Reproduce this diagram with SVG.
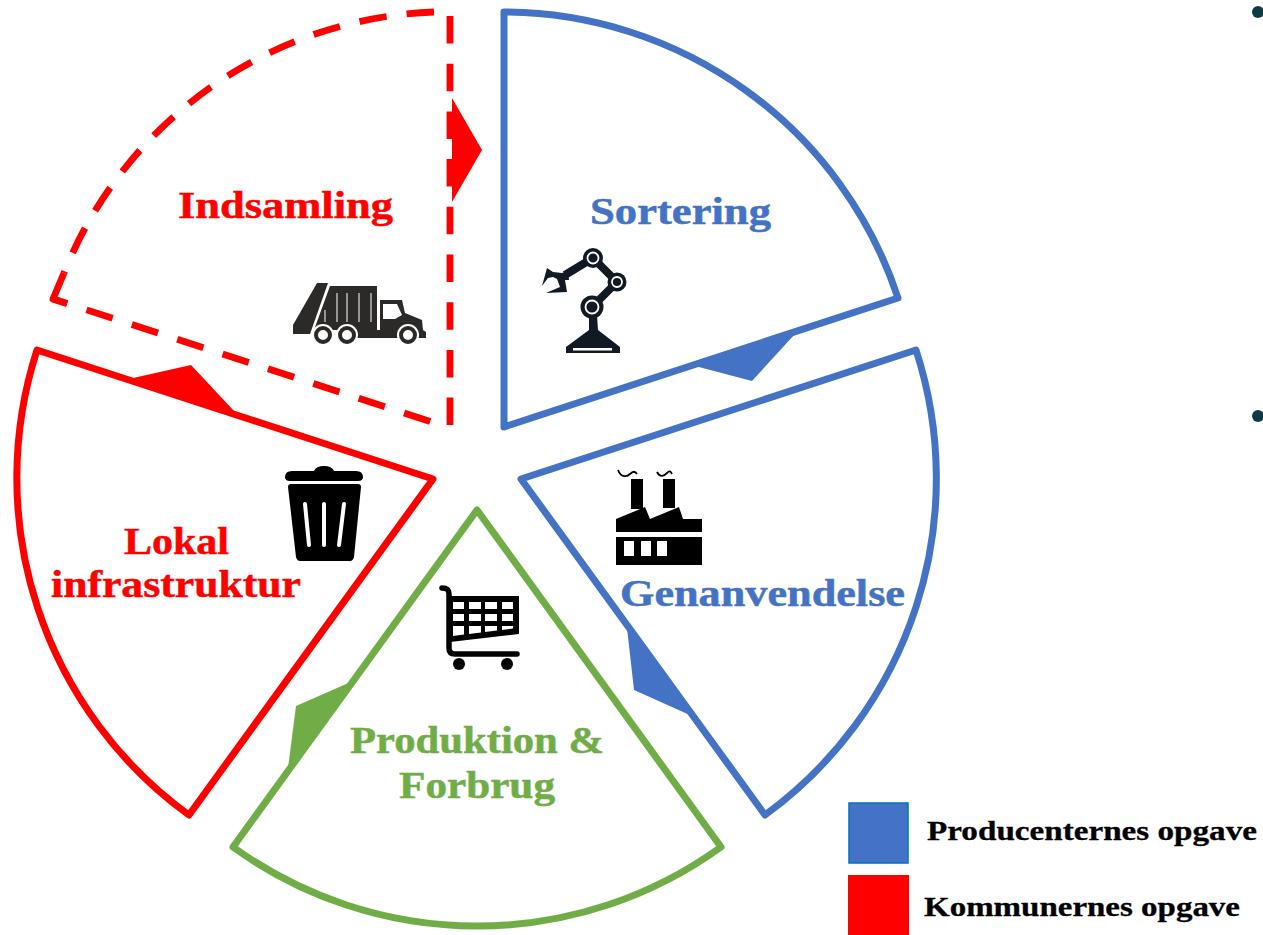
<svg xmlns="http://www.w3.org/2000/svg" width="1263" height="935" viewBox="0 0 1263 935">
<style>
.seg{fill:none;stroke-width:7;stroke-linejoin:round}
.dash{fill:none;stroke:#ff0000;stroke-width:6.8;stroke-dasharray:27.5 20.2}
.lbl{font-family:"Liberation Serif",serif;font-weight:bold;font-size:38px;stroke-width:.5}
.leg{font-family:"Liberation Serif",serif;font-weight:bold;font-size:27px;fill:#000;stroke:#000;stroke-width:.3}
.r{fill:#ff0000}.b{fill:#4472c4}.g{fill:#70ad47}
.lbl.r{stroke:#ff0000}.lbl.b{stroke:#4472c4}.lbl.g{stroke:#70ad47}
.ink{fill:#000}.tk{fill:#2b2a29}
</style>
<rect width="1263" height="935" fill="#fff"/>
<g id="connectors">
<polygon class="r" points="452,98 482,150 452,202"/>
<polygon class="b" points="695,366 752,381 795,334"/>
<polygon class="b" points="627,628 634,690 692,716"/>
<polygon class="g" points="353,681 296,706 288,768"/>
<polygon class="r" points="133,378 191,365 235,412"/>
</g>
<g id="indsamling">
<path class="dash" d="M450,16V426"/>
<path class="dash" d="M434,12A415,415 0 0 0 64,273"/>
<path class="dash" style="stroke-dashoffset:12.5" d="M53,299L432,422"/>
<path fill="none" stroke="#ff0000" stroke-width="6.8" stroke-linejoin="round" d="M64,273L53,299L67,303.5"/>
<text class="lbl r" x="178" y="218" textLength="215" lengthAdjust="spacingAndGlyphs">Indsamling</text>
<g id="truck">
<path class="tk" d="M317,283H328L310,334H293V325Z"/>
<path class="tk" d="M330,286H377V330H314Z"/>
<path class="tk" fill-rule="evenodd" d="M380,300H402L405,313L422,320L423,330L426,332V338H357V330H380ZM383,304V319H395L402,315L397,304Z"/>
<path stroke="#d0d0d0" stroke-width="1.3" fill="none" d="M337,293V322M347,293V322M359,293V322M371,293V322M325,310V322"/>
<circle cx="323" cy="335" r="11" fill="#fff"/><circle cx="347" cy="335" r="11" fill="#fff"/><circle cx="408" cy="335" r="11" fill="#fff"/>
<circle cx="323" cy="335" r="7" fill="none" stroke="#2b2a29" stroke-width="4"/><circle cx="347" cy="335" r="7" fill="none" stroke="#2b2a29" stroke-width="4"/><circle cx="408" cy="335" r="7" fill="none" stroke="#2b2a29" stroke-width="4"/>
</g>
</g>
<g id="sortering">
<path class="seg" stroke="#4472c4" d="M504,12V427L898,298A416,416 0 0 0 504,12Z"/>
<text class="lbl b" x="590" y="224" textLength="181" lengthAdjust="spacingAndGlyphs">Sortering</text>
<g id="robot" fill="#111a24">
<path d="M593,258L565,275M593,258L617,282M617,282L592,307" stroke="#111a24" stroke-width="8" fill="none"/>
<polygon points="547,268 553,272 562,273 568,271 569,280 565,280 567,292 546,293 560,287 557,279 553,277 548,278 542,286"/>
<polygon points="589,315 597,315 598,330 620,347 620,353 566,353 566,347 589,330"/>
<rect x="573" y="348" width="39" height="2.5" fill="#fff"/>
<circle cx="593" cy="258" r="10"/><circle cx="617" cy="282" r="9.5"/><circle cx="592" cy="307" r="11.5"/>
<circle cx="593" cy="258" r="5.5" fill="none" stroke="#fff" stroke-width="1.8"/><circle cx="617" cy="282" r="5" fill="none" stroke="#fff" stroke-width="1.8"/><circle cx="592" cy="307" r="6.5" fill="none" stroke="#fff" stroke-width="1.8"/>
</g>
</g>
<g id="genanvendelse">
<path class="seg" stroke="#4472c4" d="M916,350L521,479L765,815A416,416 0 0 0 916,350Z"/>
<text class="lbl b" x="620" y="606" textLength="285" lengthAdjust="spacingAndGlyphs">Genanvendelse</text>
<g id="factory">
<path class="ink" d="M631,479H643V509H631ZM663,479H675V508H663Z"/>
<path class="ink" d="M616,519L645,507L650,519L679,507L683,519H702V532H616Z"/>
<path class="ink" fill-rule="evenodd" d="M616,537H702V565H616ZM624,541V556H634V541ZM641,541V556H651V541ZM657,541V556H667V541Z"/>
<path fill="none" stroke="#000" stroke-width="1.8" d="M618,470C621,478 627,477 630,474S635,471 637,474M657,472C660,478 664,476 667,473S671,472 672,474"/>
</g>
</g>
<g id="produktion">
<path class="seg" stroke="#70ad47" d="M477,510L233,847A416,416 0 0 0 721,847Z"/>
<text class="lbl g" x="350" y="753" textLength="254" lengthAdjust="spacingAndGlyphs">Produktion &amp;</text>
<text class="lbl g" x="399" y="798" textLength="156" lengthAdjust="spacingAndGlyphs">Forbrug</text>
<g id="cart">
<path fill="none" stroke="#000" stroke-width="5.5" stroke-linecap="round" d="M442,588C447,588 449,590 449,594V648C449,652 451,654 455,654H517"/>
<path class="ink" fill-rule="evenodd" d="M450,596H519V634L450,642ZM453,602V609H464V602ZM469,602V609H481V602ZM485,602V609H497V602ZM502,602V609H513V602ZM453,614V621H464V614ZM469,614V621H481V614ZM485,614V621H497V614ZM502,614V621H513V614ZM453,626V636L464,634.5V626ZM469,626V634L481,632.5V626ZM485,626V632L497,630.5V626ZM502,626V630L513,628.5V626Z"/>
<circle class="ink" cx="459" cy="664" r="6"/><circle class="ink" cx="507" cy="664" r="6"/>
</g>
</g>
<g id="lokal">
<path class="seg" stroke="#ff0000" d="M37,350L433,479L189,815A416,416 0 0 1 37,350Z"/>
<text class="lbl r" x="124" y="554" textLength="105" lengthAdjust="spacingAndGlyphs">Lokal</text>
<text class="lbl r" x="51" y="597" textLength="250" lengthAdjust="spacingAndGlyphs">infrastruktur</text>
<g id="bin">
<path class="ink" d="M285,477Q285,471 292,471H314Q316,466 324,466T334,471H356Q363,471 363,477Q363,481 358,481H290Q285,481 285,477Z"/>
<path class="ink" d="M288,487Q288,484 291,484H358Q361,484 361,487L354,557Q353,561 350,561H300Q297,561 296,557Z"/>
<path fill="none" stroke="#fff" stroke-width="4" stroke-linecap="round" d="M305,504L309,545M324,504V545M344,504L339,545"/>
</g>
</g>
<g id="legend">
<rect x="849" y="803" width="59" height="60" fill="#4472c4" stroke="#0070c0" stroke-width="1.5"/>
<rect x="848" y="875" width="61" height="60" fill="#ff0000"/>
<text class="leg" x="927" y="840" textLength="330" lengthAdjust="spacingAndGlyphs">Producenternes opgave</text>
<text class="leg" x="924" y="916" textLength="316" lengthAdjust="spacingAndGlyphs">Kommunernes opgave</text>
</g>
<g id="bullets" fill="#0b3b45">
<circle cx="1258" cy="12" r="6"/>
<circle cx="1258" cy="416" r="6"/>
</g>
</svg>
